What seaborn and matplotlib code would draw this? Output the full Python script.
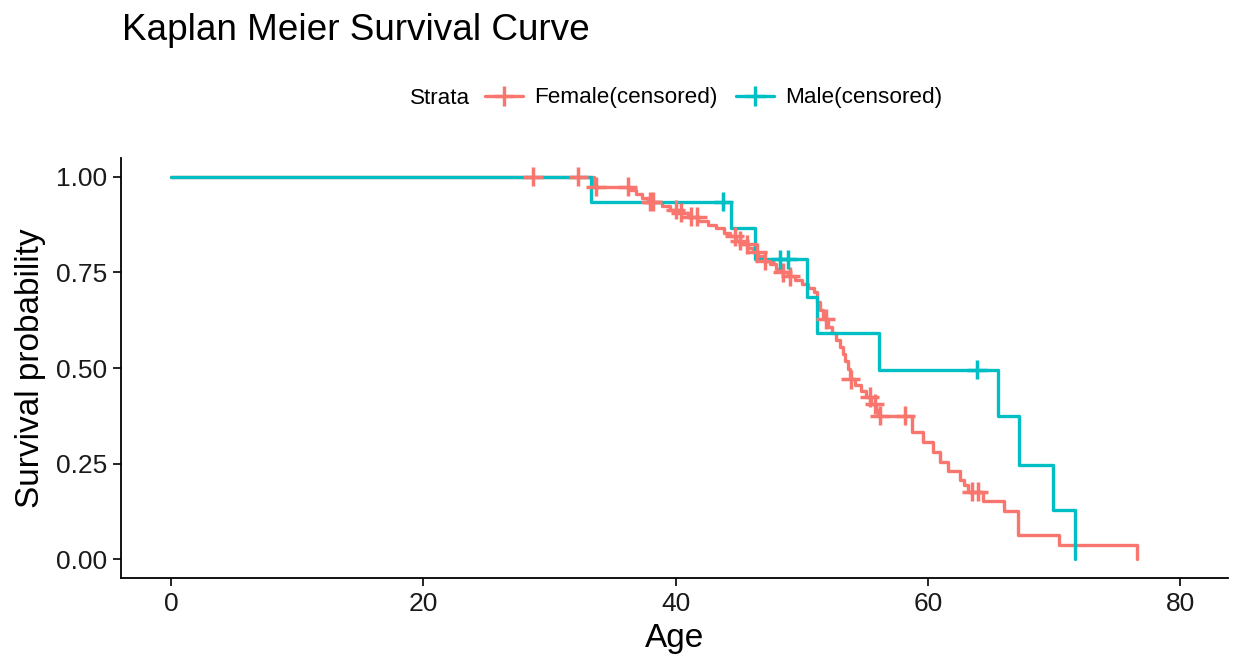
import numpy as np
import pandas as pd
import matplotlib
matplotlib.use("Agg")
import matplotlib.pyplot as plt
from matplotlib.lines import Line2D
import seaborn as sns

# Kaplan-Meier step estimates (time in years of age, survival probability)
female_time = [0.0, 33.5, 36.40, 36.88, 37.35, 37.83, 38.94, 39.57, 40.36, 41.00,
               41.79, 42.59, 43.21, 43.85, 44.33, 44.81, 45.28, 45.76, 46.15, 46.55,
               47.03, 47.50, 47.98, 48.45, 48.93, 49.49, 50.04, 50.52, 51.00, 51.23,
               51.47, 51.71, 52.10, 52.42, 52.74, 53.05, 53.29, 53.45, 53.69, 53.85,
               54.24, 54.72, 55.12, 55.51, 55.91, 56.07, 58.76, 59.64, 60.43, 60.98,
               61.62, 62.57, 62.89, 63.21, 64.39, 66.06, 67.17, 70.42, 76.61]
female_surv = [1.000, 0.974, 0.966, 0.956, 0.945, 0.935, 0.924, 0.914, 0.906, 0.896,
               0.885, 0.875, 0.865, 0.854, 0.844, 0.833, 0.823, 0.813, 0.802, 0.792,
               0.781, 0.771, 0.760, 0.750, 0.740, 0.729, 0.719, 0.708, 0.698, 0.672,
               0.651, 0.628, 0.607, 0.591, 0.573, 0.555, 0.536, 0.518, 0.497, 0.471,
               0.456, 0.440, 0.424, 0.406, 0.391, 0.375, 0.333, 0.307, 0.281, 0.255,
               0.232, 0.206, 0.193, 0.177, 0.151, 0.125, 0.0625, 0.0365, 0.0]

male_time = [0.0, 33.3, 44.4, 46.3, 50.4, 51.2, 56.1, 65.6, 67.2, 69.9, 71.7]
male_surv = [1.000, 0.935, 0.865, 0.784, 0.685, 0.591, 0.495, 0.375, 0.247, 0.128, 0.0]

# Censoring times
female_censor = [28.7, 32.3, 33.7, 36.2, 38.0, 38.2, 40.0, 40.4, 41.2, 41.7, 44.7,
                 45.1, 45.7, 46.5, 47.1, 48.5, 49.1, 51.9, 53.9, 55.4, 55.8, 56.2,
                 58.2, 63.5, 64.0]
male_censor = [43.8, 48.3, 48.9, 63.9]

strata_labels = ["Female", "Male"]
palette = {"Female": "#F8766D", "Male": "#00BFC4"}
x_ticks = [0, 20, 40, 60, 80]
y_ticks = [0.00, 0.25, 0.50, 0.75, 1.00]


def surv_at(times, survs, t):
    idx = np.searchsorted(np.asarray(times), t, side="right") - 1
    return np.asarray(survs)[idx]


curves = pd.concat([
    pd.DataFrame({"time": female_time, "surv": female_surv, "strata": "Female"}),
    pd.DataFrame({"time": male_time, "surv": male_surv, "strata": "Male"}),
], ignore_index=True)

censors = pd.concat([
    pd.DataFrame({"time": female_censor,
                  "surv": surv_at(female_time, female_surv, female_censor),
                  "strata": "Female"}),
    pd.DataFrame({"time": male_censor,
                  "surv": surv_at(male_time, male_surv, male_censor),
                  "strata": "Male"}),
], ignore_index=True)

sns.set_style("white")
plt.rcParams["font.family"] = ["Liberation Sans", "DejaVu Sans"]
plt.rcParams["text.color"] = "black"
plt.rcParams["axes.labelcolor"] = "black"

fig = plt.figure(figsize=(12.39, 6.65), dpi=100)
ax = fig.add_axes([121 / 1239, 1 - 578 / 665, (1228 - 121) / 1239, (578 - 158) / 665])

sns.lineplot(data=curves, x="time", y="surv", hue="strata", palette=palette,
             estimator=None, sort=False, drawstyle="steps-post", linewidth=2.4,
             legend=False, ax=ax)
sns.scatterplot(data=censors, x="time", y="surv", hue="strata", palette=palette,
                marker="+", s=190, linewidth=2.5, legend=False, ax=ax, zorder=3)

ax.set_xlim(-3.96, 83.8)
ax.set_ylim(-0.049, 1.049)
ax.set_xticks(x_ticks)
ax.set_yticks(y_ticks)
ax.set_yticklabels([f"{v:.2f}" for v in y_ticks])
ax.tick_params(axis="both", labelsize=19, colors="black", labelcolor="#1a1a1a",
               length=6, width=1.2, direction="out", pad=4, bottom=True, left=True)
for side in ["top", "right"]:
    ax.spines[side].set_visible(False)
for side in ["left", "bottom"]:
    ax.spines[side].set_color("black")
    ax.spines[side].set_linewidth(1.3)

ax.set_xlabel("Age", fontsize=24, labelpad=5, color="black")
ax.set_ylabel("Survival probability", fontsize=24, labelpad=7, color="black")

fig.text(122 / 1239, 1 - 31 / 665, "Kaplan Meier Survival Curve", fontsize=26.6,
         ha="left", va="center", color="black")

# Legend row above the panel
fig.text(410 / 1239, 1 - 98 / 665, "Strata", fontsize=16.2, ha="left", va="center",
         color="black")
handles = [Line2D([], [], color=palette[s], lw=2.4, marker="+", markersize=14,
                  markeredgewidth=2.4) for s in strata_labels]
fig.legend(handles, [f"{s}(censored)" for s in strata_labels], loc="center left",
           bbox_to_anchor=(485 / 1239, 1 - 98 / 665), ncol=2, frameon=False,
           fontsize=16.2, handlelength=1.7, handletextpad=0.5, columnspacing=0.8,
           borderpad=0, borderaxespad=0, labelcolor="black")

fig.savefig("out.png", dpi=100)
